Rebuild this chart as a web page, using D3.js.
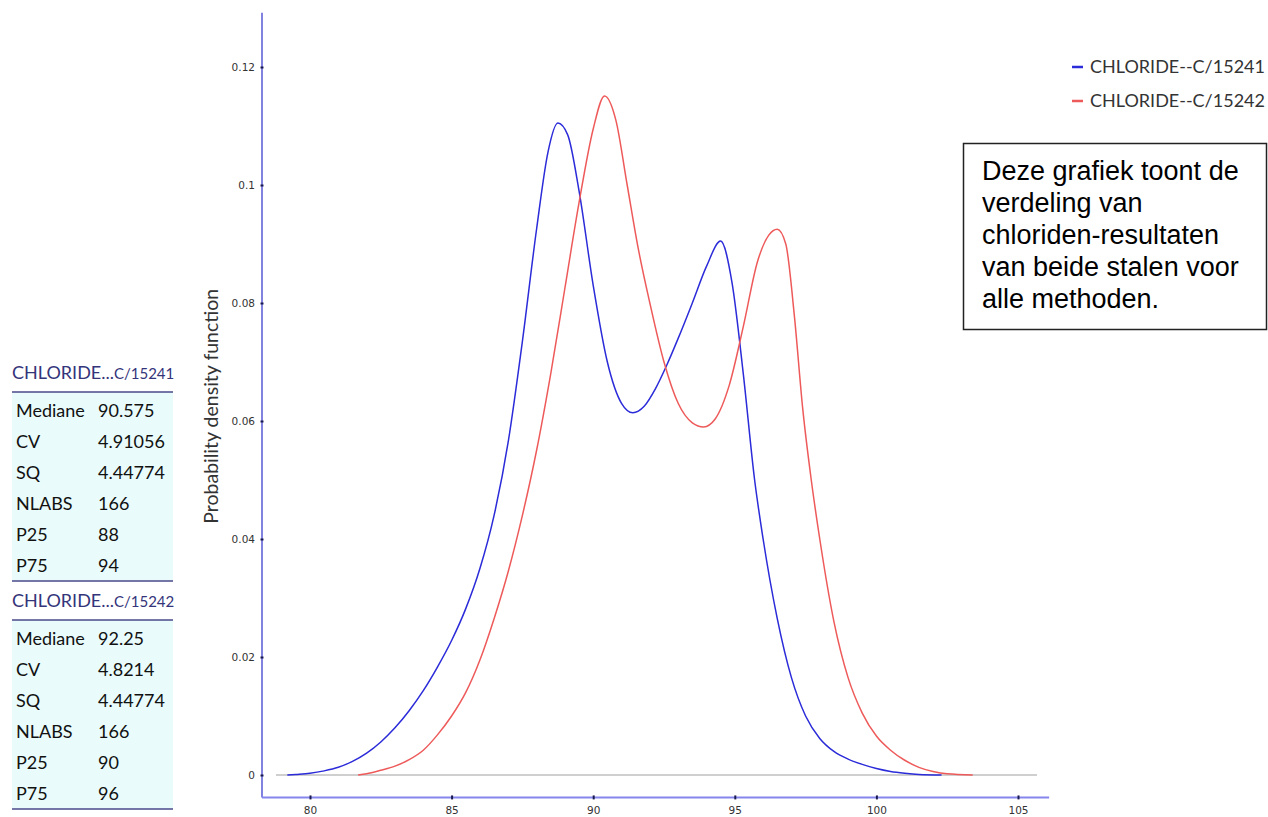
<!DOCTYPE html>
<html>
<head>
<meta charset="utf-8">
<script src="https://cdn.jsdelivr.net/npm/d3@7"></script>
<style>
  html, body { margin: 0; padding: 0; background: #ffffff; }
  svg { display: block; }
</style>
</head>
<body>
<svg id="chart" width="1268" height="817"></svg>
<script>
// Kernel density estimates of chloride results for the two samples
const seriesNames = ["CHLORIDE--C/15241", "CHLORIDE--C/15242"];
const seriesColors = ["#2b2bd9", "#ee5a5a"];

const blueX = [79.2, 79.5, 80, 80.5, 81, 81.5, 82, 82.5, 83, 83.5, 84, 84.5, 85, 85.5, 86, 86.5, 87, 87.5, 88, 88.4, 88.75, 89.1, 89.5, 90, 90.5, 91, 91.4, 91.8, 92.2, 92.6, 93, 93.5, 94, 94.5, 94.9, 95.3, 95.7, 96, 96.5, 97, 97.5, 98, 98.5, 99, 99.5, 100, 100.5, 101, 101.5, 102.3];
const blueY = [0, 0.0001, 0.0003, 0.0007, 0.0013, 0.0023, 0.0037, 0.0056, 0.0080, 0.0109, 0.0143, 0.0183, 0.0228, 0.0282, 0.0350, 0.0440, 0.0565, 0.0735, 0.0925, 0.1055, 0.1105, 0.1085, 0.0990, 0.0830, 0.0700, 0.0630, 0.0614, 0.0625, 0.0655, 0.0695, 0.0740, 0.0800, 0.0862, 0.0905, 0.0835, 0.0680, 0.0500, 0.0400, 0.0265, 0.0165, 0.0100, 0.0062, 0.0040, 0.0027, 0.0018, 0.0011, 0.0006, 0.0003, 0.0001, 0];

const redX = [81.7, 82, 82.5, 83, 83.5, 84, 84.5, 85, 85.5, 86, 86.5, 87, 87.5, 88, 88.5, 89, 89.5, 90, 90.4, 90.8, 91.2, 91.6, 92, 92.5, 93, 93.5, 93.9, 94.3, 94.8, 95.3, 95.8, 96.2, 96.5, 96.8, 97.1, 97.4, 97.7, 98, 98.5, 99, 99.5, 100, 100.5, 101, 101.5, 102, 102.5, 103.4];
const redY = [0, 0.0002, 0.0008, 0.0015, 0.0026, 0.0042, 0.0068, 0.0100, 0.0140, 0.0195, 0.0265, 0.0345, 0.0440, 0.0550, 0.0680, 0.0825, 0.0970, 0.1095, 0.1151, 0.1110, 0.1000, 0.0890, 0.0800, 0.0700, 0.0630, 0.0597, 0.0590, 0.0603, 0.0660, 0.0760, 0.0870, 0.0915, 0.0925, 0.0900, 0.0780, 0.0620, 0.0500, 0.0400, 0.0260, 0.0165, 0.0105, 0.0066, 0.0042, 0.0025, 0.0013, 0.0006, 0.0002, 0];

const xTicks = [80, 85, 90, 95, 100, 105];
const yTicks = [0, 0.02, 0.04, 0.06, 0.08, 0.1, 0.12];

// Summary statistics per sample
const statLabels = ["Mediane", "CV", "SQ", "NLABS", "P25", "P75"];
const statTitles = ["CHLORIDE...", "CHLORIDE..."];
const statCodes = ["C/15241", "C/15242"];
const statsA = ["90.575", "4.91056", "4.44774", "166", "88", "94"];
const statsB = ["92.25", "4.8214", "4.44774", "166", "90", "96"];

const noteLines = ["Deze grafiek toont de", "verdeling van", "chloriden-resultaten", "van beide stalen voor", "alle methoden."];

const svg = d3.select("#chart");

const x = d3.scaleLinear().domain([80, 105]).range([310, 1018]);
const y = d3.scaleLinear().domain([0, 0.12]).range([775, 67]);

// axis lines
const axisLeftX = x(78.305);
const axisBottomY = y(-0.0038);
svg.append("line")
  .attr("x1", axisLeftX).attr("x2", axisLeftX)
  .attr("y1", y(0.1292)).attr("y2", axisBottomY)
  .attr("stroke", "#5858d6").attr("stroke-width", 1.5);
svg.append("line")
  .attr("x1", axisLeftX).attr("x2", x(106.1))
  .attr("y1", axisBottomY).attr("y2", axisBottomY)
  .attr("stroke", "#8585ee").attr("stroke-width", 2);

// y axis ticks and labels
const yAxis = d3.axisLeft(y).tickValues(yTicks).tickSize(0).tickPadding(7)
  .tickFormat(d => String(+d.toFixed(2)));
const gy = svg.append("g").attr("transform", `translate(${axisLeftX},0)`).call(yAxis);
gy.select(".domain").remove();
gy.selectAll("text").attr("font-family", "DejaVu Sans, Verdana, sans-serif")
  .attr("font-size", 10.5).attr("fill", "#333");
gy.selectAll(".tick").append("line")
  .attr("x1", -1.5).attr("x2", 1.5).attr("stroke", "#1a1a50").attr("stroke-width", 2);

// x axis ticks and labels
const xAxis = d3.axisBottom(x).tickValues(xTicks).tickSize(0).tickPadding(9);
const gx = svg.append("g").attr("transform", `translate(0,${axisBottomY})`).call(xAxis);
gx.select(".domain").remove();
gx.selectAll("text").attr("font-family", "DejaVu Sans, Verdana, sans-serif")
  .attr("font-size", 10.5).attr("fill", "#333");
gx.selectAll(".tick").append("line")
  .attr("y1", -2).attr("y2", 2).attr("stroke", "#1a1a50").attr("stroke-width", 2);

// zero baseline
svg.append("line")
  .attr("x1", x(78.8)).attr("x2", x(105.67))
  .attr("y1", y(0)).attr("y2", y(0))
  .attr("stroke", "#cfcfcf").attr("stroke-width", 2);

// y axis title
svg.append("text")
  .attr("transform", `translate(218,${y(0.0625)}) rotate(-90)`)
  .attr("text-anchor", "middle")
  .attr("font-family", "Lato, 'Open Sans', sans-serif")
  .attr("font-size", 19.5).attr("fill", "#333")
  .text("Probability density function");

// density curves
const line = d3.line().x(d => x(d[0])).y(d => y(d[1])).curve(d3.curveMonotoneX);
const series = [d3.zip(blueX, blueY), d3.zip(redX, redY)];
series.forEach((pts, i) => {
  svg.append("path").datum(pts)
    .attr("d", line)
    .attr("fill", "none")
    .attr("stroke", seriesColors[i])
    .attr("stroke-width", 1.5);
});

// legend
const legend = svg.append("g").attr("transform", "translate(1072,67)");
seriesNames.forEach((name, i) => {
  const g = legend.append("g").attr("transform", `translate(0,${i * 34})`);
  g.append("line").attr("x1", 0).attr("x2", 11).attr("y1", 0).attr("y2", 0)
    .attr("stroke", seriesColors[i]).attr("stroke-width", 2.5);
  g.append("text").attr("x", 18).attr("y", 0).attr("dy", "0.35em")
    .attr("font-family", "Lato, 'Open Sans', sans-serif")
    .attr("font-size", 18).attr("fill", "#333").text(name);
});

// note box
svg.append("rect")
  .attr("x", 963.5).attr("y", 143.5).attr("width", 303).attr("height", 186)
  .attr("fill", "#fff").attr("stroke", "#222").attr("stroke-width", 1.5);
svg.append("g").selectAll("text").data(noteLines).join("text")
  .attr("x", 982).attr("y", (d, i) => 180 + i * 32)
  .attr("font-family", "'Liberation Sans', Arial, sans-serif")
  .attr("font-size", 27).attr("fill", "#000")
  .text(d => d);

// statistics tables
const tables = [
  { title: statTitles[0], code: statCodes[0], values: statsA, top: 356 },
  { title: statTitles[1], code: statCodes[1], values: statsB, top: 584 }
];
tables.forEach(t => {
  const g = svg.append("g").attr("transform", `translate(0,${t.top})`);
  g.append("rect").attr("x", 12).attr("y", 36).attr("width", 161).attr("height", 189)
    .attr("fill", "#e9fbfb");
  const title = g.append("text").attr("x", 12).attr("y", 17).attr("dy", "0.35em")
    .attr("font-family", "Lato, 'Open Sans', sans-serif").attr("fill", "#34347a");
  title.append("tspan").attr("font-size", 18).text(t.title);
  title.append("tspan").attr("font-size", 15).text(t.code);
  g.append("line").attr("x1", 12).attr("x2", 173).attr("y1", 36).attr("y2", 36)
    .attr("stroke", "#4a4a8a").attr("stroke-width", 1.5);
  g.append("line").attr("x1", 12).attr("x2", 173).attr("y1", 225).attr("y2", 225)
    .attr("stroke", "#4a4a8a").attr("stroke-width", 1.5);
  statLabels.forEach((lab, i) => {
    const yy = 55 + i * 31;
    g.append("text").attr("x", 16).attr("y", yy).attr("dy", "0.35em")
      .attr("font-family", "Lato, 'Open Sans', sans-serif").attr("font-size", 18)
      .attr("fill", "#111").text(lab);
    g.append("text").attr("x", 98).attr("y", yy).attr("dy", "0.35em")
      .attr("font-family", "Lato, 'Open Sans', sans-serif").attr("font-size", 18)
      .attr("fill", "#111").text(t.values[i]);
  });
});
</script>
</body>
</html>
